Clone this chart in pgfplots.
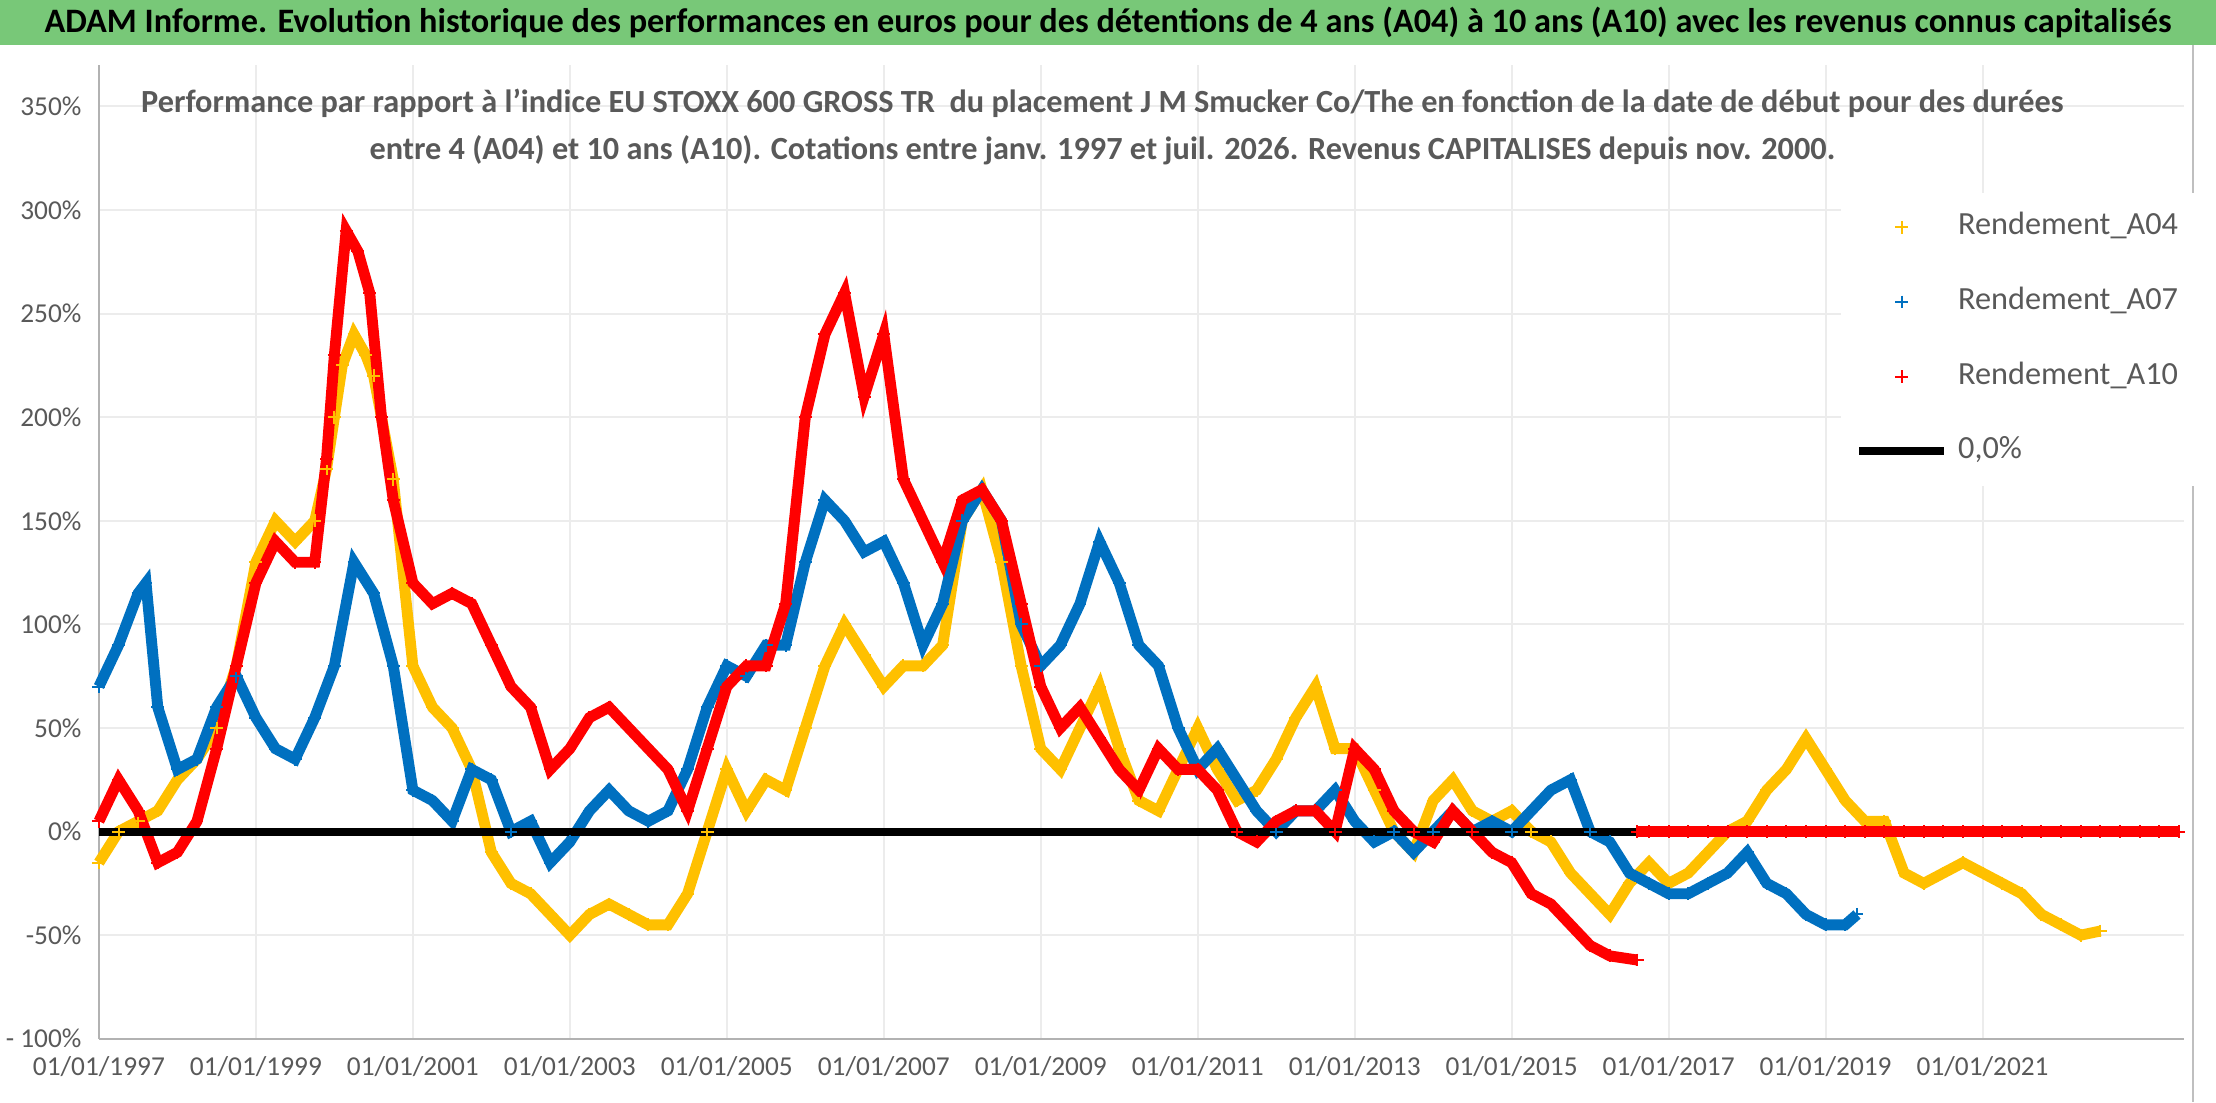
\documentclass[border=0pt]{standalone}
\usepackage{pgfplots}
\usepackage{pgfplotstable}
\pgfplotsset{compat=1.18}
\usepackage{fontspec}
\setmainfont{Carlito}
\definecolor{gold}{RGB}{255,192,0}
\definecolor{blu}{RGB}{0,112,192}
\definecolor{rd}{RGB}{255,0,0}
\definecolor{grn}{RGB}{120,200,120}
\definecolor{tx}{RGB}{89,89,89}
\pgfplotstableread{
x y
1997.0 -15
1997.25 0
1997.5 5
1997.75 10
1998.0 25
1998.25 35
1998.5 50
1998.75 80
1999.0 130
1999.25 150
1999.5 140
1999.75 150
1999.9 175
2000.0 200
2000.1 225
2000.25 240
2000.4 230
2000.5 220
2000.75 170
2001.0 80
2001.25 60
2001.5 50
2001.75 30
2002.0 -10
2002.25 -25
2002.5 -30
2002.75 -40
2003.0 -50
2003.25 -40
2003.5 -35
2003.75 -40
2004.0 -45
2004.25 -45
2004.5 -30
2004.75 0
2005.0 30
2005.25 10
2005.5 25
2005.75 20
2006.0 50
2006.25 80
2006.5 100
2006.75 85
2007.0 70
2007.25 80
2007.5 80
2007.75 90
2008.0 150
2008.25 165
2008.5 130
2008.75 80
2009.0 40
2009.25 30
2009.5 50
2009.75 70
2010.0 40
2010.25 15
2010.5 10
2010.75 30
2011.0 50
2011.25 30
2011.5 15
2011.75 20
2012.0 35
2012.25 55
2012.5 70
2012.75 40
2013.0 40
2013.25 20
2013.5 0
2013.75 -10
2014.0 15
2014.25 25
2014.5 10
2014.75 5
2015.0 10
2015.25 0
2015.5 -5
2015.75 -20
2016.0 -30
2016.25 -40
2016.5 -25
2016.75 -15
2017.0 -25
2017.25 -20
2017.5 -10
2017.75 0
2018.0 5
2018.25 20
2018.5 30
2018.75 45
2019.0 30
2019.25 15
2019.5 5
2019.75 5
2020.0 -20
2020.25 -25
2020.5 -20
2020.75 -15
2021.0 -20
2021.25 -25
2021.5 -30
2021.75 -40
2022.0 -45
2022.25 -50
2022.5 -48
}\Aquatre
\pgfplotstableread{
x y
1997.0 70
1997.25 90
1997.5 115
1997.6 120
1997.75 60
1998.0 30
1998.25 35
1998.5 60
1998.75 75
1999.0 55
1999.25 40
1999.5 35
1999.75 55
2000.0 80
2000.25 130
2000.5 115
2000.75 80
2001.0 20
2001.25 15
2001.5 5
2001.75 30
2002.0 25
2002.25 0
2002.5 5
2002.75 -15
2003.0 -5
2003.25 10
2003.5 20
2003.75 10
2004.0 5
2004.25 10
2004.5 30
2004.75 60
2005.0 80
2005.25 75
2005.5 90
2005.75 90
2006.0 130
2006.25 160
2006.5 150
2006.75 135
2007.0 140
2007.25 120
2007.5 90
2007.75 110
2008.0 150
2008.25 165
2008.5 150
2008.75 100
2009.0 80
2009.25 90
2009.5 110
2009.75 140
2010.0 120
2010.25 90
2010.5 80
2010.75 50
2011.0 30
2011.25 40
2011.5 25
2011.75 10
2012.0 0
2012.25 10
2012.5 10
2012.75 20
2013.0 5
2013.25 -5
2013.5 0
2013.75 -10
2014.0 0
2014.25 10
2014.5 0
2014.75 5
2015.0 0
2015.25 10
2015.5 20
2015.75 25
2016.0 0
2016.25 -5
2016.5 -20
2016.75 -25
2017.0 -30
2017.25 -30
2017.5 -25
2017.75 -20
2018.0 -10
2018.25 -25
2018.5 -30
2018.75 -40
2019.0 -45
2019.25 -45
2019.4 -40
}\Asept
\pgfplotstableread{
x y
1997.0 5
1997.25 25
1997.5 10
1997.75 -15
1998.0 -10
1998.25 5
1998.5 40
1998.75 80
1999.0 120
1999.25 140
1999.5 130
1999.75 130
1999.9 180
2000.0 230
2000.15 290
2000.3 280
2000.45 260
2000.6 200
2000.75 160
2001.0 120
2001.25 110
2001.5 115
2001.75 110
2002.0 90
2002.25 70
2002.5 60
2002.75 30
2003.0 40
2003.25 55
2003.5 60
2003.75 50
2004.0 40
2004.25 30
2004.5 10
2004.75 40
2005.0 70
2005.25 80
2005.5 80
2005.75 110
2006.0 200
2006.25 240
2006.5 260
2006.75 210
2007.0 240
2007.25 170
2007.5 150
2007.75 130
2008.0 160
2008.25 165
2008.5 150
2008.75 110
2009.0 70
2009.25 50
2009.5 60
2009.75 45
2010.0 30
2010.25 20
2010.5 40
2010.75 30
2011.0 30
2011.25 20
2011.5 0
2011.75 -5
2012.0 5
2012.25 10
2012.5 10
2012.75 0
2013.0 40
2013.25 30
2013.5 10
2013.75 0
2014.0 -5
2014.25 10
2014.5 0
2014.75 -10
2015.0 -15
2015.25 -30
2015.5 -35
2015.75 -45
2016.0 -55
2016.25 -60
2016.6 -62
}\Adix
\pgfplotstableread{
x y
2016.6 0
2016.75 0
2017.0 0
2017.25 0
2017.5 0
2017.75 0
2018.0 0
2018.25 0
2018.5 0
2018.75 0
2019.0 0
2019.25 0
2019.5 0
2019.75 0
2020.0 0
2020.25 0
2020.5 0
2020.75 0
2021.0 0
2021.25 0
2021.5 0
2021.75 0
2022.0 0
2022.25 0
2022.5 0
2022.75 0
2023.0 0
2023.25 0
2023.5 0
}\Adixz
\begin{document}
\begin{tikzpicture}[x=1mm,y=1mm]
\path[use as bounding box] (0,0) rectangle (156.8,-78);
\fill[grn] (0,0) rectangle (156.8,-3.2);
\node[font=\fontsize{6.9}{8}\selectfont\bfseries] at (78.4,-1.6) {ADAM Informe. Evolution historique des performances en euros pour des détentions de 4 ans (A04) à 10 ans (A10) avec les revenus connus capitalisés};
\draw[gray!50] (155.2,-3.2) -- (155.2,-78);
\begin{axis}[at={(7mm,-73.5mm)},anchor=south west,scale only axis,
 width=147.5mm,height=68.9mm,
 xmin=1997,xmax=2023.56,ymin=-100,ymax=370,
 xtick={1997,1999,...,2021},
 xticklabels={01/01/1997,01/01/1999,01/01/2001,01/01/2003,01/01/2005,01/01/2007,01/01/2009,01/01/2011,01/01/2013,01/01/2015,01/01/2017,01/01/2019,01/01/2021},
 ytick={-100,-50,...,350},
 yticklabels={- 100\%,-50\%,0\%,50\%,100\%,150\%,200\%,250\%,300\%,350\%},
 xmajorgrids,ymajorgrids,grid style={gray!15},
 axis x line*=bottom,axis y line*=left,axis line style={gray!60},
 tick style={draw=none},
 ticklabel style={font=\fontsize{5.5}{6}\selectfont,text=tx},
 legend style={at={(0.835,0.87)},anchor=north west,draw=none,fill=white,font=\fontsize{6.5}{7}\selectfont\color{tx},row sep=5pt},
 legend cell align=left,
 clip=false]
\addplot[gold,line width=2.2pt,forget plot] table {\Aquatre};
\addplot[only marks,mark=+,mark size=1.3pt,gold] table {\Aquatre};
\addlegendentry{Rendement\_A04}
\addplot[blu,line width=2.2pt,forget plot] table {\Asept};
\addplot[only marks,mark=+,mark size=1.3pt,blu] table {\Asept};
\addlegendentry{Rendement\_A07}
\addplot[rd,line width=2.2pt,forget plot] table {\Adix};
\addplot[only marks,mark=+,mark size=1.3pt,rd] table {\Adix};
\addlegendentry{Rendement\_A10}
\addplot[black,line width=1.6pt] coordinates {(1997,0)(2016.6,0)};
\addlegendentry{0,0\%}
\addplot[rd,line width=2.2pt,forget plot] table {\Adixz};
\addplot[only marks,mark=+,mark size=1.3pt,rd,forget plot] table {\Adixz};
\end{axis}
\node[font=\fontsize{6.5}{9.5}\selectfont\bfseries,text=tx,align=center] at (78,-9) {Performance par rapport à l'indice EU STOXX 600 GROSS TR\ \ du placement J M Smucker Co/The en fonction de la date de début pour des durées\\entre 4 (A04) et 10 ans (A10). Cotations entre janv. 1997 et juil. 2026. Revenus CAPITALISES depuis nov. 2000.};
\end{tikzpicture}
\end{document}
